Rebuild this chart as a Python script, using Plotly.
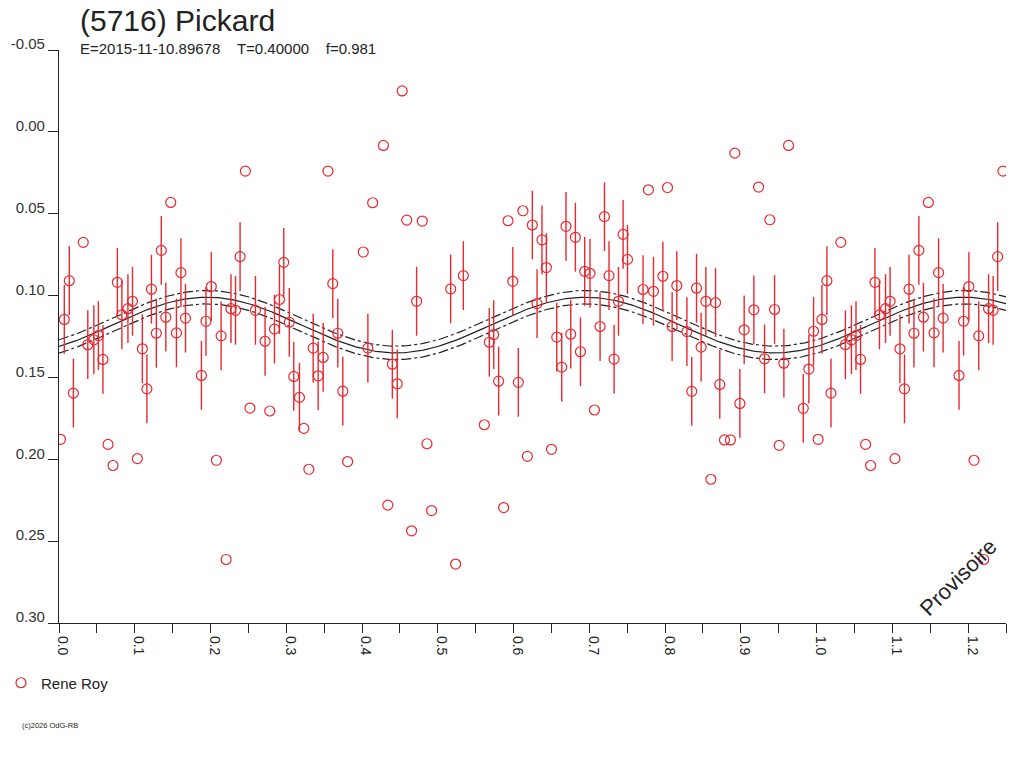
import numpy as np
import plotly.graph_objects as go

# ---- observations (Rene Roy): phase, reduced magnitude, error (0 = no bar drawn)
phase = [
    0.002, 0.007, 0.0136, 0.019, 0.032, 0.038, 0.046, 0.052, 0.058, 0.0647,
    0.0713, 0.077, 0.083, 0.091, 0.097, 0.1034, 0.110, 0.116, 0.122, 0.1285,
    0.135, 0.141, 0.1475, 0.155, 0.161, 0.167, 0.188, 0.194, 0.201, 0.2078,
    0.214, 0.2206, 0.227, 0.233, 0.239, 0.246,
    0.252, 0.2593, 0.272, 0.2782, 0.2844, 0.291, 0.2967, 0.304, 0.3099, 0.3174,
    0.3232, 0.3298, 0.3355, 0.3421, 0.3487, 0.355, 0.3614, 0.368, 0.3746, 0.381,
    0.4016, 0.4077, 0.414, 0.4282, 0.434, 0.44, 0.4465, 0.453, 0.459, 0.4654,
    0.472, 0.4795, 0.4857, 0.4918,
    0.517, 0.5235, 0.5337, 0.5614, 0.568, 0.5738, 0.5803, 0.5869, 0.5927, 0.599,
    0.6063, 0.6124, 0.6182, 0.6248, 0.631, 0.6375, 0.6433, 0.65, 0.657, 0.6636,
    0.6692, 0.6755, 0.6816, 0.6883, 0.6939, 0.7009, 0.7068, 0.7142, 0.72, 0.726,
    0.7327, 0.7385, 0.7446, 0.7504,
    0.7709, 0.778, 0.7847, 0.7971, 0.8032, 0.8093, 0.8155, 0.8288, 0.8352, 0.8415,
    0.8476, 0.8538, 0.8604, 0.8666, 0.8722, 0.8784, 0.8863, 0.8921, 0.8987, 0.9044,
    0.9172, 0.9234, 0.9313, 0.9383, 0.9445, 0.9506, 0.9568, 0.963, 0.9824, 0.9898,
    0.996,
]
mag = [
    0.1878, 0.1146, 0.0909, 0.1596, 0.0675, 0.130, 0.127, 0.1244, 0.139, 0.1909,
    0.2038, 0.0919, 0.1118, 0.108, 0.1035, 0.1996, 0.1325, 0.157, 0.0961, 0.123,
    0.0724, 0.1132, 0.0431, 0.1228, 0.086, 0.1138, 0.1488, 0.1157, 0.0945, 0.2006,
    0.1246, 0.2612, 0.108, 0.109, 0.0762, 0.024,
    0.1687, 0.109, 0.1279, 0.1705, 0.1205, 0.1024, 0.0797, 0.1163, 0.1494, 0.1622,
    0.1811, 0.2061, 0.1321, 0.149, 0.1378, 0.024, 0.0927, 0.123, 0.1584, 0.2014,
    0.0734, 0.1321, 0.0433, 0.0083, 0.228, 0.1419, 0.1539, -0.025, 0.0539, 0.2437,
    0.1035, 0.0545, 0.1905, 0.2313,
    0.0959, 0.264, 0.0878, 0.1789, 0.1285, 0.1238, 0.1523, 0.2295, 0.0543, 0.0913,
    0.153, 0.0482, 0.1982, 0.0569, 0.1049, 0.066, 0.0829, 0.1939, 0.1254, 0.1437,
    0.0577, 0.1236, 0.0644, 0.1343, 0.0852, 0.0864, 0.1699, 0.1189, 0.0518, 0.0878,
    0.1388, 0.1035, 0.0626, 0.0779,
    0.0963, 0.0354, 0.0974, 0.0882, 0.034, 0.1189, 0.0939, 0.122, 0.1585, 0.0955,
    0.1315, 0.1035, 0.2122, 0.1043, 0.1543, 0.1882, 0.1882, 0.013, 0.1659, 0.1209,
    0.1087, 0.0337, 0.1386, 0.0537, 0.1085, 0.1915, 0.1413, 0.0083, 0.1689, 0.1449,
    0.1218,
]
err = [
    0, 0.021, 0.021, 0.021, 0, 0.021, 0.021, 0.021, 0.021, 0,
    0, 0.021, 0.021, 0.021, 0.021, 0, 0.021, 0.021, 0.021, 0.021,
    0.021, 0.021, 0, 0.021, 0.021, 0.021, 0.021, 0.021, 0.021, 0,
    0.021, 0, 0.021, 0.021, 0.021, 0,
    0, 0.021, 0.021, 0, 0.021, 0.021, 0.021, 0.021, 0.021, 0.021,
    0, 0, 0.021, 0.021, 0.021, 0, 0.021, 0.021, 0.021, 0,
    0, 0.021, 0, 0, 0, 0.021, 0.021, 0, 0, 0,
    0.021, 0, 0, 0,
    0.021, 0, 0.021, 0, 0.021, 0.021, 0.021, 0, 0, 0.021,
    0.021, 0, 0, 0.021, 0.021, 0.021, 0.021, 0, 0.021, 0.021,
    0.021, 0.021, 0.021, 0.021, 0.021, 0.021, 0, 0.021, 0.021, 0.021,
    0.021, 0.021, 0.021, 0.021,
    0.021, 0, 0.021, 0.021, 0, 0.021, 0.021, 0.021, 0.021, 0.021,
    0.021, 0.021, 0, 0.021, 0.021, 0, 0, 0, 0.021, 0.021,
    0.021, 0, 0.021, 0, 0.021, 0, 0.021, 0, 0.021, 0.021,
    0.021,
]

# ---- Fourier fit of the lightcurve (mean, cos/sin coefficients per harmonic) and band
fit_mean = 0.118
fit_cos = [0.0, 0.0131]
fit_sin = [0.0, -0.01084]
fit_band = 0.0041

x_ticks = [0.0, 0.1, 0.2, 0.3, 0.4, 0.5, 0.6, 0.7, 0.8, 0.9, 1.0, 1.1, 1.2]
x_labels = ["0.0", "0.1", "0.2", "0.3", "0.4", "0.5", "0.6", "0.7", "0.8", "0.9", "1.0", "1.1", "1.2"]
x_minor = [0.05, 0.15, 0.25, 0.35, 0.45, 0.55, 0.65, 0.75, 0.85, 0.95, 1.05, 1.15, 1.25]
y_ticks = [-0.05, 0.0, 0.05, 0.10, 0.15, 0.20, 0.25, 0.30]
y_labels = ["-0.05", "0.00", "0.05", "0.10", "0.15", "0.20", "0.25", "0.30"]

title = "(5716) Pickard"
subtitle = "E=2015-11-10.89678&nbsp;&nbsp;&nbsp;&nbsp;T=0.40000&nbsp;&nbsp;&nbsp;&nbsp;f=0.981"
observer = "Rene Roy"
X_MAX = 1.25

# repeat phases beyond 1 up to the end of the axis
px_all = list(phase) + [p + 1 for p in phase if p + 1 <= X_MAX]
pm_all = list(mag) + [m for p, m in zip(phase, mag) if p + 1 <= X_MAX]
pe_all = list(err) + [e for p, e in zip(phase, err) if p + 1 <= X_MAX]

RED = "#e8282f"
INK = "#222222"
FONT = "Liberation Sans, Arial, sans-serif"

ML, MR, MT, MB = 59, 18, 50, 145
PW, PH = 1024 - ML - MR, 768 - MT - MB


def px2paper(x, y):
    return (x - ML) / PW, (768 - MB - y) / PH


grid = np.linspace(0, X_MAX, 500)
model = np.full_like(grid, fit_mean)
for k, (a, b) in enumerate(zip(fit_cos, fit_sin), start=1):
    model += a * np.cos(2 * np.pi * k * grid) + b * np.sin(2 * np.pi * k * grid)

fig = go.Figure()
dashdot = "10px,3px,3px,3px"
for off, dash in [(-fit_band, dashdot), (0.0, "solid"), (fit_band, dashdot)]:
    fig.add_trace(go.Scatter(
        x=grid, y=model + off, mode="lines", showlegend=False, hoverinfo="skip",
        line=dict(color=INK, width=1.2, dash=dash),
    ))

fig.add_trace(go.Scatter(
    x=px_all, y=pm_all, mode="markers", name=observer,
    marker=dict(symbol="circle-open", size=10, color=RED, line=dict(width=1.2, color=RED)),
    error_y=dict(type="data", array=pe_all, visible=True, color=RED, thickness=1.4, width=0),
))

tx, ty = px2paper(78, 20)
sx, sy = px2paper(78, 48)
wx, wy = px2paper(958, 577)
cx, cy = px2paper(20, 725)
lx, ly = px2paper(1, 683)

fig.update_layout(
    width=1024, height=768,
    margin=dict(l=ML, r=MR, t=MT, b=MB, autoexpand=False),
    paper_bgcolor="white", plot_bgcolor="white",
    font=dict(family=FONT, color=INK, size=13),
    showlegend=True,
    legend=dict(x=lx, y=ly, xanchor="left", yanchor="middle",
                font=dict(size=15, color=INK), bgcolor="rgba(0,0,0,0)",
                itemwidth=30, tracegroupgap=0),
    xaxis=dict(range=[0, X_MAX], showgrid=False, zeroline=False, automargin=False,
               showline=True, linecolor=INK, linewidth=1.2,
               ticks="outside", ticklen=9, tickcolor=INK, tickwidth=1.2,
               tickvals=x_ticks, ticktext=x_labels, tickangle=90, ticklabelshift=4,
               tickfont=dict(size=14, color=INK),
               minor=dict(tickvals=x_minor, ticks="outside", ticklen=9,
                          tickcolor=INK, tickwidth=1.2, showgrid=False)),
    yaxis=dict(range=[0.30, -0.05], showgrid=False, zeroline=False, automargin=False,
               showline=True, linecolor=INK, linewidth=1.2,
               ticks="outside", ticklen=10, tickcolor=INK, tickwidth=1.2,
               tickvals=y_ticks, ticktext=y_labels, ticklabelshift=6,
               ticklabelstandoff=0,
               tickfont=dict(size=15, color="#333333")),
    annotations=[
        dict(text=title, xref="paper", yref="paper", x=tx, y=ty,
             xanchor="left", yanchor="middle", showarrow=False,
             font=dict(size=30, color=INK, family=FONT)),
        dict(text=subtitle, xref="paper", yref="paper", x=sx, y=sy,
             xanchor="left", yanchor="middle", showarrow=False,
             font=dict(size=15, color=INK, family=FONT)),
        dict(text="Provisoire", xref="paper", yref="paper", x=wx, y=wy,
             xanchor="center", yanchor="middle", showarrow=False, textangle=-45,
             font=dict(size=22, color=INK, family=FONT)),
        dict(text="(c)2026 OdG-RB", xref="paper", yref="paper", x=cx, y=cy,
             xanchor="left", yanchor="middle", showarrow=False,
             font=dict(size=7.5, color=INK, family=FONT)),
    ],
)

fig.write_html("out.html", config={"displayModeBar": False},
               post_script="document.body.style.margin='0';")
